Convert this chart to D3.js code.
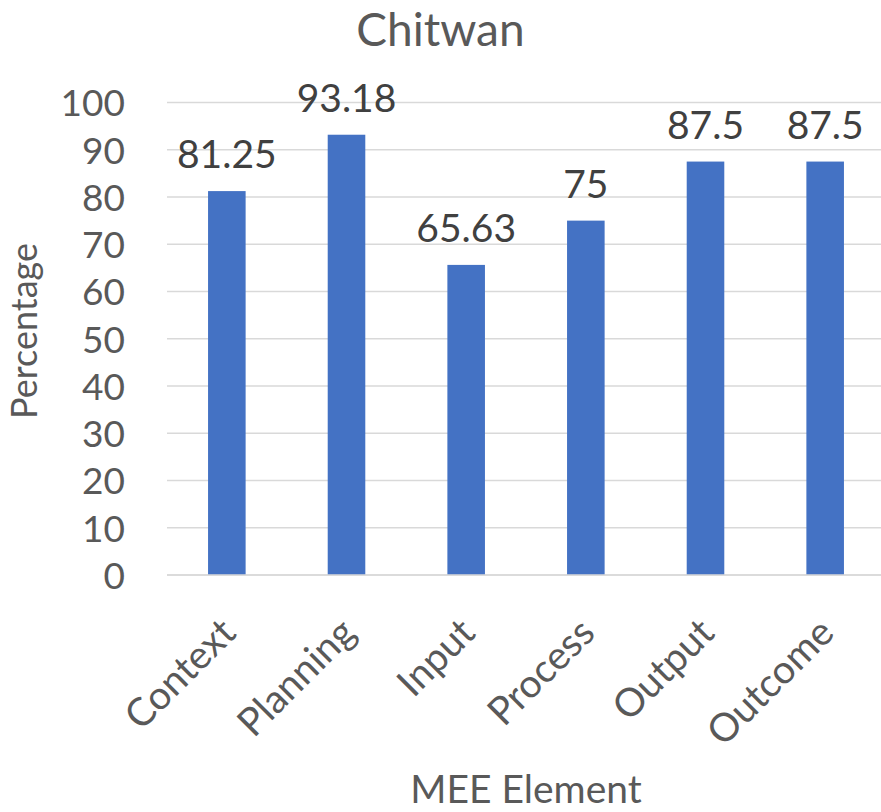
<!DOCTYPE html>
<html>
<head>
<meta charset="utf-8">
<script src="https://cdn.jsdelivr.net/npm/d3@7"></script>
<style>
  html, body { margin: 0; padding: 0; background: #fff; }
  svg { display: block; }
  text { font-family: Lato, "Open Sans", sans-serif; }
</style>
</head>
<body>
<div id="chart"></div>
<script>
const categories = ["Context", "Planning", "Input", "Process", "Output", "Outcome"];
const values = [81.25, 93.18, 65.63, 75, 87.5, 87.5];
const valueLabels = ["81.25", "93.18", "65.63", "75", "87.5", "87.5"];
const yTicks = [0, 10, 20, 30, 40, 50, 60, 70, 80, 90, 100];
const title = "Chitwan";
const xTitle = "MEE Element";
const yTitle = "Percentage";

const W = 881, H = 812;
const plot = { left: 167, right: 885, top: 102.5, bottom: 575 };

const svg = d3.select("#chart").append("svg")
  .attr("width", W).attr("height", H);

const x = d3.scaleBand()
  .domain(categories)
  .range([plot.left, plot.right])
  .paddingInner(0.686)
  .paddingOuter(0.343);

const y = d3.scaleLinear()
  .domain([0, 100])
  .range([plot.bottom, plot.top]);

// gridlines
svg.append("g").selectAll("line")
  .data(yTicks)
  .join("line")
  .attr("x1", plot.left).attr("x2", plot.right)
  .attr("y1", d => y(d)).attr("y2", d => y(d))
  .attr("stroke", "#D9D9D9").attr("stroke-width", 1.5);

// y axis labels
const yAxis = d3.axisLeft(y).tickValues(yTicks).tickSize(0).tickPadding(0);
const gy = svg.append("g").attr("transform", `translate(125,0)`).call(yAxis);
gy.select(".domain").remove();
gy.selectAll("text")
  .attr("fill", "#595959")
  .attr("font-size", 37)
  .attr("font-family", "Lato, 'Open Sans', sans-serif")
  .attr("dy", "0.36em");

// bars
svg.append("g").selectAll("rect")
  .data(values)
  .join("rect")
  .attr("x", (d, i) => x(categories[i]))
  .attr("width", x.bandwidth())
  .attr("y", d => y(d))
  .attr("height", d => y(0) - y(d))
  .attr("fill", "#4472C4");

// axis line (on top)
svg.append("line")
  .attr("x1", plot.left).attr("x2", plot.right)
  .attr("y1", y(0)).attr("y2", y(0))
  .attr("stroke", "#D9D9D9").attr("stroke-width", 1.5);

// value labels
svg.append("g").selectAll("text")
  .data(values)
  .join("text")
  .attr("x", (d, i) => x(categories[i]) + x.bandwidth() / 2)
  .attr("y", d => y(d) - 23)
  .attr("text-anchor", "middle")
  .attr("fill", "#404040")
  .attr("font-size", 39)
  .text((d, i) => valueLabels[i]);

// x axis labels
const xAxis = d3.axisBottom(x).tickSize(0).tickPadding(0);
const gx = svg.append("g").attr("transform", `translate(0,${plot.bottom})`).call(xAxis);
gx.select(".domain").remove();
gx.selectAll("text")
  .attr("fill", "#595959")
  .attr("font-size", 39)
  .attr("font-family", "Lato, 'Open Sans', sans-serif")
  .attr("text-anchor", "end")
  .attr("dy", 0)
  .attr("y", 0)
  .attr("transform", "translate(11,60) rotate(-45)");

// title
svg.append("text")
  .attr("x", W / 2).attr("y", 46)
  .attr("text-anchor", "middle")
  .attr("fill", "#595959")
  .attr("font-size", 46)
  .text(title);

// x title
svg.append("text")
  .attr("x", (plot.left + plot.right) / 2).attr("y", 803)
  .attr("text-anchor", "middle")
  .attr("fill", "#595959")
  .attr("font-size", 39)
  .text(xTitle);

// y title
svg.append("text")
  .attr("transform", `translate(37,331) rotate(-90)`)
  .attr("text-anchor", "middle")
  .attr("fill", "#595959")
  .attr("font-size", 36)
  .text(yTitle);
</script>
</body>
</html>
